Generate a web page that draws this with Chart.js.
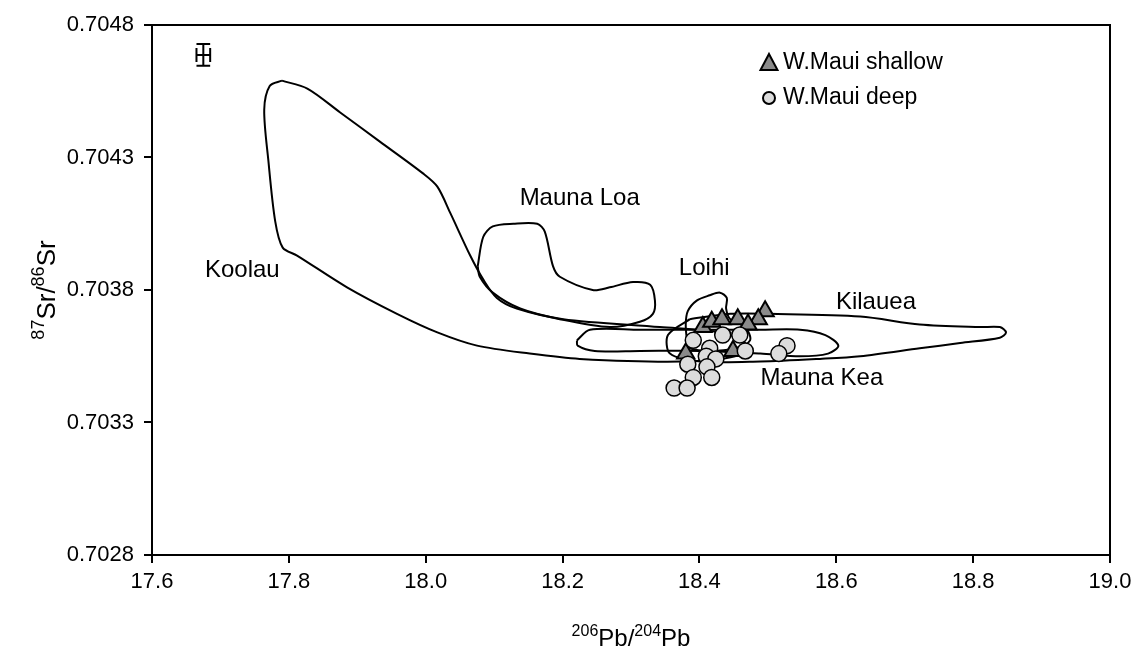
<!DOCTYPE html>
<html>
<head>
<meta charset="utf-8">
<script src="https://cdn.jsdelivr.net/npm/chart.js@4.4.1/dist/chart.umd.min.js"></script>
<style>
  html, body { margin: 0; padding: 0; background: #fff; }
</style>
</head>
<body>
<canvas id="chart" width="1147" height="655"></canvas>
<script>
// axis ticks
const xTicks = [17.6, 17.8, 18.0, 18.2, 18.4, 18.6, 18.8, 19.0];
const yTicks = [0.7028, 0.7033, 0.7038, 0.7043, 0.7048];

// W. Maui samples
const shallowX = [18.405, 18.418, 18.433, 18.456, 18.496, 18.486, 18.471, 18.449, 18.380];
const shallowY = [0.70366, 0.70368, 0.70369, 0.70369, 0.70372, 0.70369, 0.70367, 0.70357, 0.70356];
const deepX = [18.391, 18.434, 18.459, 18.415, 18.410, 18.424, 18.383, 18.411, 18.391, 18.418, 18.363, 18.382, 18.528, 18.516, 18.467];
const deepY = [0.70361, 0.70363, 0.70363, 0.70358, 0.70355, 0.70354, 0.70352, 0.70351, 0.70347, 0.70347, 0.70343, 0.70343, 0.70359, 0.70356, 0.70357];

// field outlines
const koolauX = [17.790, 17.827, 17.875, 17.933, 17.996, 18.017, 18.036, 18.065, 18.084, 18.104, 18.133, 18.201, 18.342, 18.430, 18.467, 18.452, 18.372, 18.225, 18.152, 18.075, 18.017, 17.958, 17.885, 17.812, 17.791, 17.780, 17.770, 17.764, 17.772, 17.790];
const koolauY = [0.70459, 0.70456, 0.70447, 0.70436, 0.70424, 0.70419, 0.70409, 0.70393, 0.70384, 0.70377, 0.70373, 0.70369, 0.70366, 0.70364, 0.70360, 0.70355, 0.70353, 0.70354, 0.70356, 0.70359, 0.70364, 0.70371, 0.70381, 0.70393, 0.70396, 0.70406, 0.70429, 0.70448, 0.70457, 0.70459];
const maunaLoaX = [18.076, 18.084, 18.098, 18.128, 18.163, 18.174, 18.186, 18.196, 18.244, 18.269, 18.303, 18.328, 18.335, 18.332, 18.313, 18.269, 18.196, 18.138, 18.098, 18.079, 18.076];
const maunaLoaY = [0.70389, 0.70400, 0.70404, 0.70405, 0.70405, 0.70402, 0.70389, 0.70385, 0.70380, 0.70381, 0.70383, 0.70382, 0.70376, 0.70371, 0.70368, 0.70366, 0.70369, 0.70373, 0.70379, 0.70385, 0.70389];
const loihiX = [18.382, 18.380, 18.383, 18.396, 18.415, 18.430, 18.440, 18.439, 18.445, 18.467, 18.474, 18.452, 18.415, 18.386, 18.382];
const loihiY = [0.70360, 0.70367, 0.70372, 0.70376, 0.70378, 0.70379, 0.70377, 0.70373, 0.70369, 0.70366, 0.70361, 0.70358, 0.70357, 0.70358, 0.70360];
const kilaueaX = [18.386, 18.445, 18.503, 18.635, 18.722, 18.810, 18.839, 18.848, 18.839, 18.781, 18.722, 18.635, 18.576, 18.489, 18.401, 18.357, 18.354, 18.386];
const kilaueaY = [0.70369, 0.70371, 0.70371, 0.70370, 0.70367, 0.70366, 0.70366, 0.70364, 0.70362, 0.70360, 0.70358, 0.70355, 0.70354, 0.70353, 0.70353, 0.70356, 0.70363, 0.70369];
const maunaKeaX = [18.221, 18.240, 18.313, 18.386, 18.489, 18.547, 18.584, 18.603, 18.588, 18.547, 18.489, 18.401, 18.313, 18.247, 18.222, 18.221];
const maunaKeaY = [0.70361, 0.70365, 0.70365, 0.70365, 0.70365, 0.70365, 0.70363, 0.70359, 0.70356, 0.70355, 0.70356, 0.70357, 0.70357, 0.70357, 0.70359, 0.70361];

// field names
const fieldNames = ['Koolau', 'Mauna Loa', 'Loihi', 'Kilauea', 'Mauna Kea'];
const fieldLabelX = [17.732, 18.225, 18.407, 18.658, 18.579];
const fieldLabelY = [0.703875, 0.704147, 0.703883, 0.703755, 0.703468];

// analytical error (2 sigma)
const errX = 17.675;
const errY = 0.704687;
const errDx = 0.010;
const errDy = 0.000041;

const FONT = '"Liberation Sans", Arial, sans-serif';

function pts(xs, ys) {
    return xs.map(function (x, i) { return { x: x, y: ys[i] }; });
}

function outline(label, xs, ys) {
    return {
        label: label,
        data: pts(xs, ys),
        showLine: true,
        tension: 0.3,
        pointRadius: 0,
        pointHoverRadius: 0,
        borderColor: '#000',
        borderWidth: 2,
        fill: false
    };
}

// draw a string made of normal and superscript pieces, centred on x
function drawSupText(ctx, parts, x, y, size) {
    let total = 0;
    parts.forEach(function (p) {
        ctx.font = (p[1] ? Math.round(size * 0.68) : size) + 'px ' + FONT;
        total += ctx.measureText(p[0]).width;
    });
    let cx = x - total / 2;
    ctx.textAlign = 'left';
    ctx.textBaseline = 'alphabetic';
    parts.forEach(function (p) {
        ctx.font = (p[1] ? Math.round(size * 0.68) : size) + 'px ' + FONT;
        ctx.fillText(p[0], cx, p[1] ? y - size * 0.42 : y);
        cx += ctx.measureText(p[0]).width;
    });
}

const extras = {
    id: 'extras',
    afterDraw(chart) {
        const ctx = chart.ctx;
        const area = chart.chartArea;
        const xs = chart.scales.x;
        const ys = chart.scales.y;
        ctx.save();

        // top and right frame
        ctx.strokeStyle = '#000';
        ctx.lineWidth = 2;
        ctx.beginPath();
        ctx.moveTo(area.left, area.top);
        ctx.lineTo(area.right, area.top);
        ctx.lineTo(area.right, area.bottom);
        ctx.stroke();

        // field names
        ctx.fillStyle = '#000';
        ctx.font = '24px ' + FONT;
        ctx.textAlign = 'center';
        ctx.textBaseline = 'middle';
        fieldNames.forEach(function (n, i) {
            ctx.fillText(n, xs.getPixelForValue(fieldLabelX[i]), ys.getPixelForValue(fieldLabelY[i]));
        });

        // error bar
        const ex = xs.getPixelForValue(errX);
        const ey = ys.getPixelForValue(errY);
        const x0 = xs.getPixelForValue(errX - errDx);
        const x1 = xs.getPixelForValue(errX + errDx);
        const y0 = ys.getPixelForValue(errY + errDy);
        const y1 = ys.getPixelForValue(errY - errDy);
        ctx.lineWidth = 2;
        ctx.beginPath();
        ctx.moveTo(ex, y0); ctx.lineTo(ex, y1);
        ctx.moveTo(x0, y0); ctx.lineTo(x1, y0);
        ctx.moveTo(x0, y1); ctx.lineTo(x1, y1);
        ctx.moveTo(x0, ey); ctx.lineTo(x1, ey);
        ctx.moveTo(x0, ey - 7); ctx.lineTo(x0, ey + 7);
        ctx.moveTo(x1, ey - 7); ctx.lineTo(x1, ey + 7);
        ctx.stroke();

        // legend
        const lx = area.left + 617;
        const ly = area.top + 38;
        const shallow = chart.data.datasets[1];
        const deep = chart.data.datasets[0];
        ctx.fillStyle = shallow.pointBackgroundColor;
        ctx.strokeStyle = '#000';
        ctx.lineWidth = 2;
        ctx.beginPath();
        ctx.moveTo(lx, ly - 9);
        ctx.lineTo(lx + 8.5, ly + 7);
        ctx.lineTo(lx - 8.5, ly + 7);
        ctx.closePath();
        ctx.fill();
        ctx.stroke();
        ctx.fillStyle = deep.pointBackgroundColor;
        ctx.lineWidth = 2;
        ctx.beginPath();
        ctx.arc(lx, ly + 35, 6, 0, Math.PI * 2);
        ctx.fill();
        ctx.stroke();
        ctx.fillStyle = '#000';
        ctx.font = '23px ' + FONT;
        ctx.textAlign = 'left';
        ctx.textBaseline = 'middle';
        ctx.fillText(shallow.label, lx + 14, ly);
        ctx.fillText(deep.label, lx + 14, ly + 35);

        // axis titles with superscripts
        drawSupText(ctx, [['206', true], ['Pb/', false], ['204', true], ['Pb', false]],
            (area.left + area.right) / 2, 646, 24);
        ctx.save();
        ctx.translate(55, (area.top + area.bottom) / 2);
        ctx.rotate(-Math.PI / 2);
        drawSupText(ctx, [['87', true], ['Sr/', false], ['86', true], ['Sr', false]], 0, 0, 26);
        ctx.restore();

        ctx.restore();
    }
};

new Chart(document.getElementById('chart'), {
    type: 'scatter',
    data: {
        datasets: [
            {
                label: 'W.Maui deep',
                data: pts(deepX, deepY),
                pointStyle: 'circle',
                pointRadius: 8,
                pointBackgroundColor: '#dcdcdc',
                pointBorderColor: '#000',
                pointBorderWidth: 1.5
            },
            {
                label: 'W.Maui shallow',
                data: pts(shallowX, shallowY),
                pointStyle: 'triangle',
                pointRadius: 10,
                pointBackgroundColor: '#8a8a8a',
                pointBorderColor: '#000',
                pointBorderWidth: 2
            },
            outline('Koolau', koolauX, koolauY),
            outline('Mauna Loa', maunaLoaX, maunaLoaY),
            outline('Loihi', loihiX, loihiY),
            outline('Kilauea', kilaueaX, kilaueaY),
            outline('Mauna Kea', maunaKeaX, maunaKeaY)
        ]
    },
    options: {
        responsive: false,
        animation: false,
        devicePixelRatio: 1,
        layout: { padding: { top: 25, right: 37, left: 0, bottom: 0 } },
        plugins: {
            legend: { display: false },
            tooltip: { enabled: false }
        },
        scales: {
            x: {
                type: 'linear',
                min: 17.6,
                max: 19.0,
                afterBuildTicks: function (s) { s.ticks = xTicks.map(function (v) { return { value: v }; }); },
                afterFit: function (s) { s.height = 100; },
                grid: { drawOnChartArea: false, drawTicks: true, tickLength: 8, color: '#000', lineWidth: 2 },
                border: { display: true, color: '#000', width: 2 },
                ticks: {
                    color: '#000',
                    padding: 6,
                    maxRotation: 0,
                    font: { family: FONT, size: 22 },
                    callback: function (v) { return v.toFixed(1); }
                }
            },
            y: {
                type: 'linear',
                min: 0.7028,
                max: 0.7048,
                afterBuildTicks: function (s) { s.ticks = yTicks.map(function (v) { return { value: v }; }); },
                afterFit: function (s) { s.width = 152; },
                grid: { drawOnChartArea: false, drawTicks: true, tickLength: 8, color: '#000', lineWidth: 2 },
                border: { display: true, color: '#000', width: 2 },
                ticks: {
                    color: '#000',
                    padding: 10,
                    font: { family: FONT, size: 22 },
                    callback: function (v) { return v.toFixed(4); }
                }
            }
        }
    },
    plugins: [extras]
});
</script>
</body>
</html>
